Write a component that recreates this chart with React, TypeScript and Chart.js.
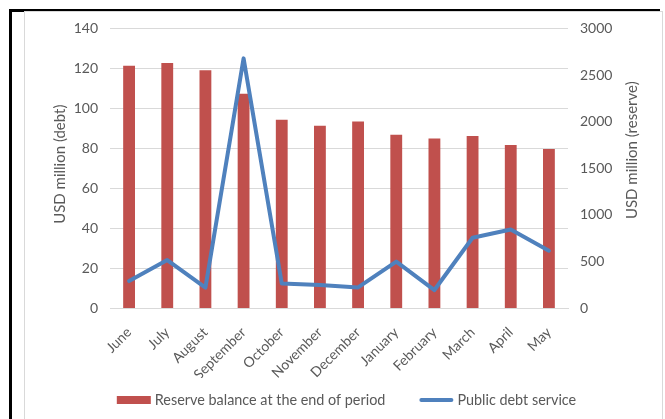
import { useEffect, useRef } from 'react';
import { Chart, registerables } from 'chart.js';

Chart.register(...registerables);

const categories = ['June', 'July', 'August', 'September', 'October', 'November', 'December', 'January', 'February', 'March', 'April', 'May'];
const reserveBalance = [2600, 2630, 2550, 2300, 2020, 1955, 2000, 1860, 1820, 1845, 1750, 1705];
const publicDebtService = [13.5, 24, 10.2, 125, 12.3, 11.5, 10.3, 23.2, 9, 35.2, 39.3, 28.7];
const reserveLabel = 'Reserve balance at the end of period';
const debtLabel = 'Public debt service';
const leftTitle = 'USD million (debt)';
const rightTitle = 'USD million (reserve)';

const FONT = 'Lato';
const FS = 14;
const TFS = 15;
const LFS = 14.4;
const GREY = '#595959';
const RED = '#C0504D';
const BLUE = '#4F81BD';

const axisTitles = {
  id: 'axisTitles',
  afterDraw(chart: any) {
    const ctx = chart.ctx;
    const area = chart.chartArea;
    const mid = (area.top + area.bottom) / 2;
    ctx.save();
    ctx.fillStyle = GREY;
    ctx.font = `${TFS}px ${FONT}`;
    ctx.textAlign = 'center';
    ctx.textBaseline = 'middle';
    ctx.save();
    ctx.translate(chart.scales.y.left + 35, mid - 4);
    ctx.rotate(-Math.PI / 2);
    ctx.fillText(leftTitle, 0, 0);
    ctx.restore();
    ctx.save();
    ctx.translate(chart.scales.y1.right - 29, mid - 18);
    ctx.rotate(-Math.PI / 2);
    ctx.fillText(rightTitle, 0, 0);
    ctx.restore();
    ctx.restore();
  },
};

const customLegend = {
  id: 'customLegend',
  afterDraw(chart: any) {
    const ctx = chart.ctx;
    ctx.save();
    ctx.font = `${LFS}px ${FONT}`;
    const items = [
      { text: reserveLabel, kind: 'rect', color: RED },
      { text: debtLabel, kind: 'line', color: BLUE },
    ];
    const boxW = 34;
    const gapText = 4;
    const gapItem = 34;
    const widths = items.map((it) => boxW + gapText + ctx.measureText(it.text).width);
    const total = widths.reduce((a, b) => a + b, 0) + gapItem * (items.length - 1);
    let x = chart.width / 2 + 3.5 - total / 2;
    const y = chart.height - 19;
    items.forEach((it, i) => {
      if (it.kind === 'rect') {
        ctx.fillStyle = it.color;
        ctx.fillRect(x, y - 4, boxW, 8);
      } else {
        ctx.strokeStyle = it.color;
        ctx.lineWidth = 4;
        ctx.lineCap = 'round';
        ctx.beginPath();
        ctx.moveTo(x + 2, y);
        ctx.lineTo(x + boxW - 2, y);
        ctx.stroke();
      }
      ctx.fillStyle = GREY;
      ctx.textAlign = 'left';
      ctx.textBaseline = 'middle';
      ctx.fillText(it.text, x + boxW + gapText, y);
      x += widths[i] + gapItem;
    });
    ctx.restore();
  },
};

export default function App() {
  const ref = useRef<HTMLCanvasElement>(null);
  useEffect(() => {
    if (!ref.current) return;
    const chart = new Chart(ref.current, {
      type: 'bar',
      data: {
        labels: categories,
        datasets: [
          {
            type: 'bar',
            label: reserveLabel,
            data: reserveBalance,
            backgroundColor: RED,
            yAxisID: 'y1',
            order: 1,
            categoryPercentage: 1,
            barPercentage: 0.31,
          },
          {
            type: 'line',
            label: debtLabel,
            data: publicDebtService,
            borderColor: BLUE,
            backgroundColor: BLUE,
            borderWidth: 4,
            borderCapStyle: 'round',
            borderJoinStyle: 'round',
            pointRadius: 0,
            tension: 0,
            yAxisID: 'y',
            order: 0,
          },
        ] as any,
      },
      options: {
        animation: false,
        responsive: false,
        layout: { padding: { top: 12, bottom: 41, left: 0, right: 0 } },
        scales: {
          x: {
            grid: { display: false },
            border: { display: true, color: '#d9d9d9', width: 1 },
            ticks: { color: GREY, font: { family: FONT, size: FS }, minRotation: 45, maxRotation: 45, padding: 8 },
            afterFit: (s: any) => { s.height = 70; },
          },
          y: {
            position: 'left',
            min: 0,
            max: 140,
            ticks: { stepSize: 20, color: GREY, font: { family: FONT, size: FS }, padding: 12 },
            grid: { color: '#d9d9d9', lineWidth: 1, drawTicks: false },
            border: { display: false },
            afterFit: (s: any) => { s.width = 85; },
          },
          y1: {
            position: 'right',
            min: 0,
            max: 3000,
            ticks: {
              stepSize: 500,
              color: GREY,
              font: { family: FONT, size: FS },
              padding: 12,
              callback: (v: any) => String(v),
            },
            grid: { display: false, drawTicks: false },
            border: { display: false },
            afterFit: (s: any) => { s.width = 93; },
          },
        },
        plugins: {
          tooltip: { enabled: false },
          legend: { display: false },
        },
      },
      plugins: [axisTitles, customLegend],
    } as any);
    return () => chart.destroy();
  }, []);

  return (
    <div>
      <div style={{ position: 'absolute', left: 9, top: 9, width: 651, height: 500, borderTop: '3px solid #000', borderLeft: '3px solid #000', boxSizing: 'border-box' }} />
      <div style={{ position: 'absolute', left: 24, top: 11, width: 639, height: 500, border: '1.5px solid #d9d9d9', boxSizing: 'border-box', background: '#fff' }} />
      <canvas ref={ref} width={636} height={411} style={{ position: 'absolute', left: 25, top: 8, width: 636, height: 411 }} />
    </div>
  );
}
